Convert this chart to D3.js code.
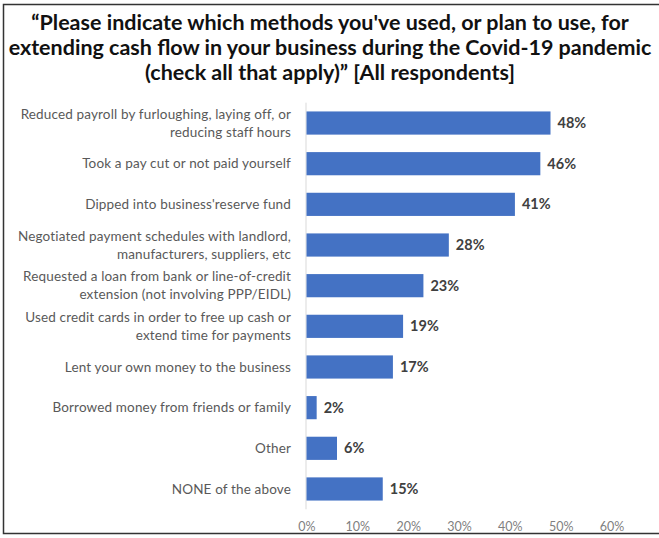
<!DOCTYPE html>
<html>
<head>
<meta charset="utf-8">
<script src="https://cdn.jsdelivr.net/npm/d3@7"></script>
<style>
  html, body { margin: 0; padding: 0; background: #fff; }
  svg { display: block; }
</style>
</head>
<body>
<svg id="chart" width="659" height="538"></svg>
<script>
// Survey answers, top to bottom; each label is split into its display lines
const categories = [
  ["Reduced payroll by furloughing, laying off, or", "reducing staff hours"],
  ["Took a pay cut or not paid yourself"],
  ["Dipped into business'reserve fund"],
  ["Negotiated payment schedules with landlord,", "manufacturers, suppliers, etc"],
  ["Requested a loan from bank or line-of-credit", "extension (not involving PPP/EIDL)"],
  ["Used credit cards in order to free up cash or", "extend time for payments"],
  ["Lent your own money to the business"],
  ["Borrowed money from friends or family"],
  ["Other"],
  ["NONE of the above"]
];
// Share of respondents, percent
const values = [48, 46, 41, 28, 23, 19, 17, 2, 6, 15];
const tickValues = [0, 10, 20, 30, 40, 50, 60];
const titleLines = [
  "\u201CPlease indicate which methods you've used, or plan to use, for",
  "extending cash flow in your business during the Covid-19 pandemic",
  "(check all that apply)\u201D [All respondents]"
];

const svg = d3.select("#chart");
const font = "Lato, 'Open Sans', sans-serif";

// Outer frame
svg.append("path")
  .attr("d", "M662,4.5 H3.5 V533.5 H662")
  .attr("fill", "none")
  .attr("stroke", "#333")
  .attr("stroke-width", 1.5);

// Title
svg.append("g").selectAll("text")
  .data(titleLines)
  .join("text")
  .attr("x", 330)
  .attr("y", (d, i) => 29.5 + i * 25)
  .attr("text-anchor", "middle")
  .attr("font-family", font)
  .attr("font-weight", 700)
  .attr("font-size", 21.5)
  .attr("fill", "#111")
  .text(d => d);

const x = d3.scaleLinear().domain([0, 60]).range([306.5, 611.5]);
const y = d3.scaleBand()
  .domain(d3.range(categories.length))
  .range([102.7, 509.3])
  .paddingInner(0.43)
  .paddingOuter(0.215);

// Category axis line
svg.append("line")
  .attr("x1", x(0) - 0.5).attr("x2", x(0) - 0.5)
  .attr("y1", y.range()[0]).attr("y2", y.range()[1])
  .attr("stroke", "#d9d9d9").attr("stroke-width", 1);

// Bars
svg.append("g").selectAll("rect")
  .data(values)
  .join("rect")
  .attr("x", x(0))
  .attr("y", (d, i) => y(i))
  .attr("width", d => x(d) - x(0))
  .attr("height", y.bandwidth())
  .attr("fill", "#4472C4");

// Value labels
svg.append("g").selectAll("text")
  .data(values)
  .join("text")
  .attr("x", d => x(d) + 7)
  .attr("y", (d, i) => y(i) + y.bandwidth() / 2)
  .attr("dy", "0.35em")
  .attr("font-family", font)
  .attr("font-weight", 700)
  .attr("font-size", 14.5)
  .attr("fill", "#404040")
  .text(d => d + "%");

// Category labels
const lab = svg.append("g").selectAll("text")
  .data(categories)
  .join("text")
  .attr("text-anchor", "end")
  .attr("font-family", font)
  .attr("font-size", 13.5)
  .attr("letter-spacing", 0.15)
  .attr("fill", "#595959");
lab.each(function(lines, i) {
  const cy = y(i) + y.bandwidth() / 2;
  const lh = 18;
  const top = cy - (lines.length - 1) * lh / 2;
  d3.select(this).selectAll("tspan")
    .data(lines)
    .join("tspan")
    .attr("x", 291)
    .attr("y", (d, j) => top + j * lh)
    .attr("dy", "0.35em")
    .text(d => d);
});

// Value axis
const xAxis = d3.axisBottom(x)
  .tickValues(tickValues)
  .tickFormat(d => d + "%")
  .tickSize(0)
  .tickPadding(0);
const ax = svg.append("g")
  .attr("transform", "translate(0,522)")
  .call(xAxis);
ax.select(".domain").remove();
ax.selectAll("text")
  .attr("font-family", font)
  .attr("font-size", 12.5)
  .attr("fill", "#7f7f7f");
</script>
</body>
</html>
